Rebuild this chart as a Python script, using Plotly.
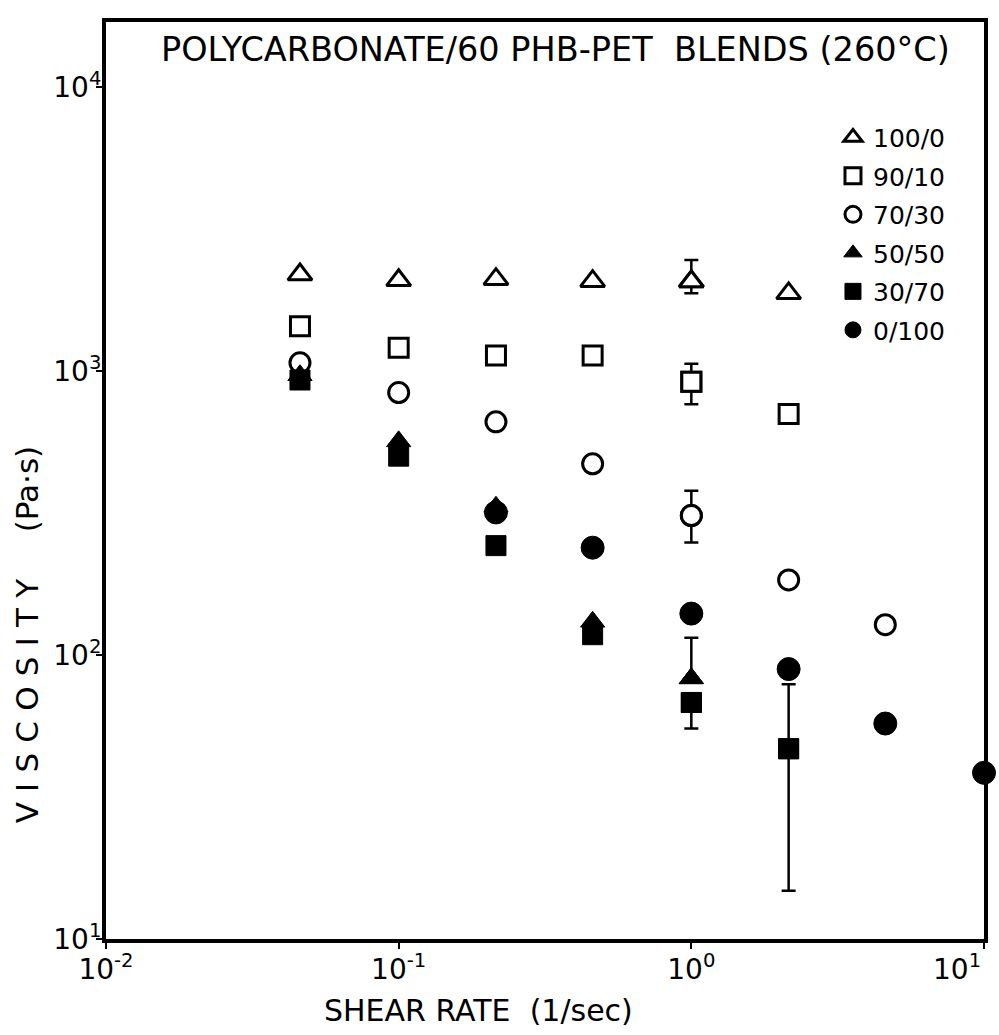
import plotly.graph_objects as go

# Shear rates used in the sweep (1/sec)
shear_rate = [0.046, 0.1, 0.215, 0.46, 1.0, 2.15, 4.6, 10.0]

# Blend labels (PC / 60PHB-PET weight ratio)
blend_labels = ["100/0", "90/10", "70/30", "50/50", "30/70", "0/100"]

# Viscosity (Pa·s) for each blend; one value per shear rate starting at the first rate
visc_100_0 = [2190, 2090, 2110, 2075, 2070, 1880]
visc_90_10 = [1440, 1210, 1135, 1135, 918, 706]
visc_70_30 = [1070, 841, 663, 472, 310, 184, 128]
visc_50_50 = [968, 566, 333, 131, 82.8]
visc_30_70 = [931, 502, 243, 118, 68.1, 46.8]
# 0/100 starts at the third shear rate
visc_0_100 = [318, 239, 140, 89.3, 57.4, 38.5]
start_0_100 = 2

# Error-bar points: (blend, index into shear_rate, upper limit, lower limit)
err_points = [
    ("100/0", 4, 2462, 1880),
    ("90/10", 4, 1062, 765),
    ("70/30", 4, 379, 249),
    ("50/50", 4, 115, None),
    ("30/70", 4, None, 55.1),
    ("30/70", 5, 78.9, 14.8),
]

# Axis ticks (decades) and their labels
x_tick_vals = [0.01, 0.1, 1, 10]
x_tick_text = ["10<sup>-2</sup>", "10<sup>-1</sup>", "10<sup>0</sup>", "10<sup>1</sup>"]
y_tick_vals = [10, 100, 1000, 10000]
y_tick_text = ["10<sup>1</sup>", "10<sup>2</sup>", "10<sup>3</sup>", "10<sup>4</sup>"]

series = {
    "100/0": (shear_rate[:len(visc_100_0)], visc_100_0),
    "90/10": (shear_rate[:len(visc_90_10)], visc_90_10),
    "70/30": (shear_rate[:len(visc_70_30)], visc_70_30),
    "50/50": (shear_rate[:len(visc_50_50)], visc_50_50),
    "30/70": (shear_rate[:len(visc_30_70)], visc_30_70),
    "0/100": (shear_rate[start_0_100:start_0_100 + len(visc_0_100)], visc_0_100),
}

FONT = "DejaVu Sans"
INK = "black"
TICK_SIZE = 28

marker_style = {
    "100/0": dict(symbol="triangle-up", size=21, color="white", line=dict(color=INK, width=3)),
    "90/10": dict(symbol="square", size=19, color="white", line=dict(color=INK, width=3)),
    "70/30": dict(symbol="circle", size=20, color="white", line=dict(color=INK, width=3)),
    "50/50": dict(symbol="triangle-up", size=21, color=INK, line=dict(color=INK, width=1)),
    "30/70": dict(symbol="square", size=20, color=INK, line=dict(color=INK, width=1)),
    "0/100": dict(symbol="circle", size=23, color=INK, line=dict(color=INK, width=1)),
}

fig = go.Figure()

# Error bars first so the symbols sit on top of them
for name, idx, hi, lo in err_points:
    xs, ys = series[name]
    x0 = shear_rate[idx]
    y0 = ys[xs.index(x0)]
    up = (hi - y0) if hi is not None else 0
    dn = (y0 - lo) if lo is not None else 0
    fig.add_trace(go.Scatter(
        x=[x0], y=[y0], mode="markers",
        marker=marker_style[name],
        error_y=dict(type="data", symmetric=False, array=[up], arrayminus=[dn],
                     color=INK, thickness=2.5, width=7),
        showlegend=False, hoverinfo="skip", cliponaxis=False,
    ))

for name in blend_labels:
    xs, ys = series[name]
    fig.add_trace(go.Scatter(
        x=xs, y=ys, mode="markers", name=name, legendgroup=name,
        marker=marker_style[name], cliponaxis=False,
    ))

axis_common = dict(
    type="log", showline=True, mirror=True, linecolor=INK, linewidth=4,
    ticks="outside", ticklen=6, tickwidth=2, tickcolor=INK,
    showgrid=False, zeroline=False, tickmode="array",
    tickfont=dict(family=FONT, size=TICK_SIZE, color=INK),
)

# The last x label sits at the right edge of the figure, so it is placed as an
# annotation tucked to the left of its tick instead of a centred tick label.
x_axis_text = x_tick_text[:-1] + [""]

# Wide lettering for the vertical axis title
spaced = "\u2004".join("VISCOSITY")

fig.update_layout(
    width=999, height=1035,
    margin=dict(l=106, r=11, t=22, b=96),
    paper_bgcolor="white", plot_bgcolor="white",
    font=dict(family=FONT, color=INK),
    xaxis=dict(range=[-2, 1], tickvals=x_tick_vals, ticktext=x_axis_text,
               ticklabelstandoff=-4, **axis_common),
    yaxis=dict(range=[1, 4.23], tickvals=y_tick_vals, ticktext=y_tick_text,
               ticklabelstandoff=-11, **axis_common),
    legend=dict(
        x=0.828, y=0.899, xanchor="left", yanchor="top",
        font=dict(family=FONT, size=25, color=INK),
        bgcolor="rgba(0,0,0,0)", tracegroupgap=3, itemwidth=30,
    ),
    annotations=[
        dict(text=x_tick_text[-1], xref="x", yref="paper",
             x=1, y=-0.0085, xanchor="right", yanchor="top", xshift=-1,
             showarrow=False, font=dict(family=FONT, size=TICK_SIZE, color=INK)),
        dict(text="POLYCARBONATE/60 PHB-PET  BLENDS (260°C)",
             xref="paper", yref="paper", x=(558 - 106) / 882, y=0.9695,
             xanchor="center", yanchor="middle", showarrow=False,
             font=dict(family=FONT, size=33.5, color=INK)),
        dict(text="SHEAR RATE  (1/sec)",
             xref="paper", yref="paper", x=(480 - 106) / 882, y=-0.078,
             xanchor="center", yanchor="middle", showarrow=False,
             font=dict(family=FONT, size=30, color=INK)),
        dict(text=spaced + "\u2003\u2002(Pa·s)",
             xref="paper", yref="paper", x=(27 - 106) / 882, y=(939 - 634) / 917,
             xanchor="center", yanchor="middle", showarrow=False, textangle=-90,
             font=dict(family=FONT, size=31, color=INK)),
    ],
)

fig.write_html("out.html")
